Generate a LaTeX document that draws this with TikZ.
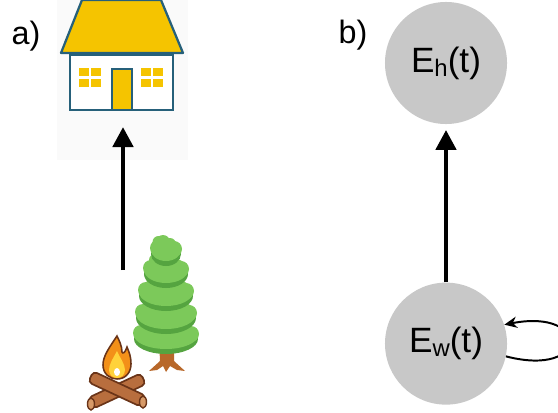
\documentclass[tikz,border=0pt]{standalone}
\usepackage{fontspec}
\setmainfont{Liberation Sans}
\usetikzlibrary{positioning,arrows.meta}

\definecolor{stategray}{HTML}{C8C8C8}
\definecolor{roofyellow}{HTML}{F5C400}
\definecolor{houseline}{HTML}{26607A}
\definecolor{leaflight}{HTML}{7CC95A}
\definecolor{leafdark}{HTML}{55A440}
\definecolor{bark}{HTML}{B8682A}
\definecolor{logbrown}{HTML}{B86E3E}
\definecolor{logdark}{HTML}{6A3418}
\definecolor{logend}{HTML}{D79A68}
\definecolor{flameorange}{HTML}{F39019}
\definecolor{flameyellow}{HTML}{FFD23A}

\newcommand{\sub}[1]{\raisebox{-0.12em}{\fontsize{17}{17}\selectfont #1}}

\begin{document}
\begin{tikzpicture}[x=0.025cm, y=-0.025cm, node distance=3.95cm,
    state/.style={circle, fill=stategray, minimum size=3.05cm, inner sep=0pt, font=\fontsize{25}{30}\selectfont},
    flow/.style={-{Triangle[length=0.5cm, width=0.5cm]}, line width=3.3pt},
    tag/.style={font=\fontsize{23}{26}\selectfont},
    log/.style={fill=logbrown, draw=logdark, line width=1.2pt, rounded corners=3pt}]

    \useasboundingbox (0,0) rectangle (558,413);

    % panel labels
    \node[tag] (a) at (26,36) {a)};
    \node[tag] (b) at (353,35) {b)};

    % house
    \fill[black!2] (57,0) rectangle (188,160);
    \filldraw[fill=roofyellow, draw=houseline, line width=1.6pt, line join=round]
        (82,0) -- (161,0) -- (183,53) -- (61,53) -- cycle;
    \filldraw[fill=white, draw=houseline, line width=1.6pt] (70,55) rectangle (173,110);
    \filldraw[fill=roofyellow, draw=houseline, line width=1.6pt] (112,69) rectangle (132,110);
    \foreach \wx in {79, 141} {
        \foreach \i in {0, 1} {
            \foreach \j in {0, 1} {
                \fill[roofyellow] (\wx+12*\i, 68+11*\j) rectangle (\wx+12*\i+10, 68+11*\j+8);
            }
        }
    }

    % tree
    \fill[bark] (159,340) -- (160,361) -- (149,371) -- (157,370) -- (163,366) -- (166,372)
        -- (170,366) -- (177,370) -- (185,371) -- (174,361) -- (174,340) -- cycle;
    \foreach \cy/\rx/\ry in {335/32/15, 314/30/16, 292/27/15, 270/22/14, 250/15/12} {
        \fill[leafdark] (166,\cy+4) ellipse [x radius=\rx, y radius=\ry];
        \fill[leaflight] (166,\cy) ellipse [x radius=\rx, y radius=\ry-1];
        \fill[leaflight] (166-\rx+7,\cy-2) circle [radius=8];
        \fill[leaflight] (166+\rx-7,\cy-1) circle [radius=8];
        \fill[leaflight] (166-\rx/2,\cy-\ry+4) circle [radius=6];
    }
    \fill[leaflight] (163,242) circle [radius=7];
    \fill[leaflight] (170,244) circle [radius=6];

    % campfire
    \draw[log, rotate around={25:(117,391)}] (88,385) rectangle (146,397);
    \draw[log, rotate around={-25:(117,389)}] (88,383) rectangle (146,395);
    \filldraw[fill=logend, draw=logdark, line width=1pt] (91,404) ellipse [x radius=3.5, y radius=6];
    \filldraw[fill=logend, draw=logdark, line width=1pt] (143,402) ellipse [x radius=3.5, y radius=6];
    \filldraw[fill=flameorange, draw=logdark, line width=1.1pt]
        (117,336) .. controls (109,348) and (103,356) .. (103,365)
        .. controls (103,374) and (110,379) .. (117,379)
        .. controls (126,379) and (131,372) .. (131,364)
        .. controls (131,356) and (129,352) .. (127,347)
        .. controls (125,353) and (123,354) .. (122,352)
        .. controls (122,346) and (119,340) .. (117,336) -- cycle;
    \fill[flameyellow] (117,351) .. controls (112,360) and (109,365) .. (109,370)
        .. controls (109,375) and (113,378) .. (117,378)
        .. controls (121,378) and (125,375) .. (125,370)
        .. controls (125,364) and (120,358) .. (117,351) -- cycle;
    \fill[white] (117,372) ellipse [x radius=3, y radius=4];

    \coordinate (fire) at (123,270);
    \coordinate (home) at (123,127);
    \draw[flow] (fire) -- (home);

    % states
    \node[state] (eh) at (446,63) {E\sub{h}(t)};
    \node[state] (ew) [below=of eh] {E\sub{w}(t)};

    \draw[flow, shorten >=4pt] (ew) -- (eh);
    \draw[-{Stealth[length=9pt, width=8pt]}, line width=1.4pt]
        (ew.-12) .. controls (590,378) and (590,308) .. (ew.18);
\end{tikzpicture}
\end{document}
